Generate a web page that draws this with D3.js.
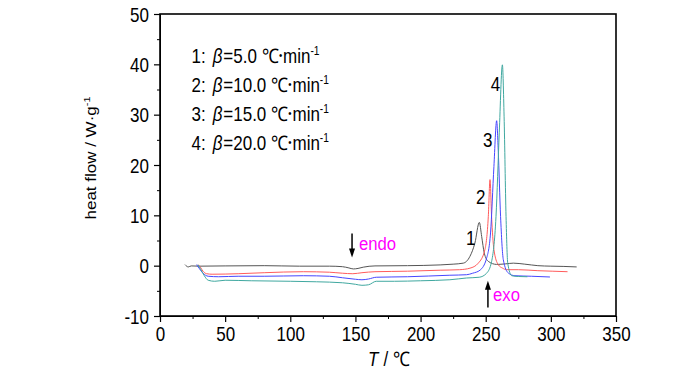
<!DOCTYPE html>
<html>
<head>
<meta charset="utf-8">
<script src="https://cdnjs.cloudflare.com/ajax/libs/d3/7.8.5/d3.min.js"></script>
<style>
  body { margin: 0; background: #fff; }
  svg text { font-family: "Liberation Sans", Arial, sans-serif; }
</style>
</head>
<body>
<svg id="chart" width="700" height="373"></svg>
<script>
// curve data (T in degC, heat flow in W/g)
const curve1T = [19.2, 21.7, 24, 30, 50, 80, 107, 130, 140, 145, 148.4, 152, 156, 165, 190, 215, 225, 232.8, 237.9, 241.7, 245.1, 246.9, 248.9, 252, 258.4, 265, 271.2, 280, 290, 300, 310, 319.8];
const curve1H = [0.2, -0.25, -0.05, -0.1, -0.05, 0, -0.1, -0.1, -0.2, -0.45, -0.65, -0.55, -0.3, -0.05, 0, 0.15, 0.3, 0.5, 1.85, 4.5, 8.6, 5.8, 2.5, 0.85, 0.25, 0.35, 0.5, 0.3, 0, -0.1, -0.15, -0.25];

const curve2T = [29.4, 31, 33, 35.8, 40, 60, 80, 110, 130, 140, 148, 155, 165, 190, 215, 230, 237.9, 244.3, 249.4, 252, 253.3, 254.5, 256.3, 259.6, 263, 266, 275, 290, 301, 312.8];
const curve2H = [0.2, -0.3, -1.1, -1.6, -1.7, -1.6, -1.4, -1.2, -1.3, -1.5, -1.6, -1.4, -1.2, -1.1, -0.9, -0.8, -0.5, 0.5, 3.2, 9.8, 17.1, 9.8, 3.2, 0.2, -0.5, -0.8, -0.8, -1.0, -1.1, -1.2];

const curve3T = [28.1, 30, 33, 37, 45, 60, 80, 110, 130, 140, 150, 155, 160, 166, 190, 222.5, 235.3, 240, 245.6, 250.7, 253.7, 256.3, 258.4, 259.6, 261.4, 263.5, 267.3, 272.4, 285, 299.3];
const curve3H = [0.2, -0.5, -1.5, -2.1, -2.2, -2.1, -2.1, -2.0, -2.1, -2.4, -2.7, -2.8, -2.65, -2.3, -2.2, -1.9, -1.8, -1.5, -0.9, 1.5, 6.5, 19.7, 28.8, 23, 9.8, 1.2, -1.45, -2.0, -2.1, -2.25];

const curve4T = [29.2, 31, 34, 37, 42, 50, 70, 100, 120, 140, 150, 155, 160, 166, 180, 200, 222.5, 235.3, 245, 250.7, 254.5, 257.9, 260.4, 262.8, 264.1, 265.6, 266.9, 270, 275, 282];
const curve4H = [0.2, -0.6, -2.0, -2.9, -3.1, -2.9, -3.0, -3.1, -3.2, -3.4, -3.7, -3.9, -3.8, -3.1, -3.1, -3.0, -2.8, -2.45, -2.3, -1.5, 0.8, 9.8, 26.4, 39.9, 29.7, 9.8, 0.5, -2.0, -2.15, -2.2];

const seriesColors = ['#555555', '#ff5c5c', '#4646ff', '#40a8a0'];
const legendRates = ['5.0', '10.0', '15.0', '20.0'];

// curve number labels: [T, heat flow] of the text baseline
const curveLabelT = [234.8, 242.5, 247.9, 253.8];
const curveLabelH = [4.2, 12.3, 23.6, 34.8];

const xTicks = [0, 50, 100, 150, 200, 250, 300, 350];
const yTicks = [-10, 0, 10, 20, 30, 40, 50];

// the original lettering is a condensed Arial
const sq = 0.85;

const margin = { top: 14, right: 84, bottom: 57, left: 160 };
const width = 700 - margin.left - margin.right;
const height = 373 - margin.top - margin.bottom;

const svg = d3.select('#chart');
const g = svg.append('g').attr('transform', `translate(${margin.left},${margin.top})`);

const x = d3.scaleLinear().domain([0, 350]).range([0, width]);
const y = d3.scaleLinear().domain([-10, 50]).range([height, 0]);

// minor ticks first, then major ones on top
g.append('g')
  .attr('transform', `translate(0,${height})`)
  .call(d3.axisBottom(x).tickValues(d3.range(25, 350, 50)).tickSize(3).tickFormat(''))
  .call(a => a.select('.domain').remove());
g.append('g')
  .call(d3.axisLeft(y).tickValues(d3.range(-5, 50, 10)).tickSize(3).tickFormat(''))
  .call(a => a.select('.domain').remove());

const xAxis = g.append('g')
  .attr('transform', `translate(0,${height})`)
  .call(d3.axisBottom(x).tickValues(xTicks).tickSize(6).tickSizeOuter(0).tickPadding(5).tickFormat(d => String(d)));
const yAxis = g.append('g')
  .call(d3.axisLeft(y).tickValues(yTicks).tickSize(6).tickSizeOuter(0).tickPadding(5).tickFormat(d => String(d)));

[xAxis, yAxis].forEach(a => {
  a.selectAll('.tick line').attr('stroke', '#000').attr('stroke-width', 1.2);
  a.selectAll('text').attr('font-size', 20).attr('fill', '#000')
    .style('font-family', '"Liberation Sans", Arial, sans-serif')
    .attr('transform', `scale(${sq},1)`);
});
yAxis.selectAll('.tick text').attr('x', -11 / sq).attr('dy', '0.36em');

// frame
g.append('rect')
  .attr('width', width).attr('height', height)
  .attr('fill', 'none').attr('stroke', '#000').attr('stroke-width', 1.6);

const line = d3.line()
  .x(d => x(d[0]))
  .y(d => y(d[1]))
  .curve(d3.curveMonotoneX);

const curves = [
  d3.zip(curve1T, curve1H),
  d3.zip(curve2T, curve2H),
  d3.zip(curve3T, curve3H),
  d3.zip(curve4T, curve4H)
];

g.selectAll('.curve')
  .data(curves)
  .enter().append('path')
  .attr('class', 'curve')
  .attr('d', line)
  .attr('fill', 'none')
  .attr('stroke', (d, i) => seriesColors[i])
  .attr('stroke-width', 1);

g.selectAll('.curve-label')
  .data(curveLabelT)
  .enter().append('text')
  .attr('transform', (d, i) => `translate(${x(d)},${y(curveLabelH[i])}) scale(${sq},1)`)
  .attr('font-size', 20)
  .text((d, i) => i + 1);

// legend
const legend = g.append('g').attr('transform', `translate(31.5,49) scale(${sq},1)`);
legendRates.forEach((rate, i) => {
  const t = legend.append('text')
    .attr('x', 0)
    .attr('y', i * 29)
    .attr('font-size', 20);
  t.append('tspan').text(`${i + 1}:`);
  t.append('tspan').attr('x', 25).attr('font-style', 'italic').text('β');
  t.append('tspan').attr('dx', 1).text(`=${rate} ℃`);
  t.append('tspan').attr('dx', 1).text('•').attr('font-size', 11).attr('dy', -4);
  t.append('tspan').attr('dx', 1).attr('dy', 4).text('min');
  t.append('tspan').attr('dy', -8).attr('font-size', 12).text('-1');
});

// endo / exo arrows
function arrow(xp, y0, y1) {
  const dir = y1 > y0 ? 1 : -1;
  g.append('line')
    .attr('x1', xp).attr('x2', xp)
    .attr('y1', y0).attr('y2', y1 - dir * 6)
    .attr('stroke', '#000').attr('stroke-width', 1.5);
  g.append('path')
    .attr('d', `M${xp - 3},${y1 - dir * 9}L${xp + 3},${y1 - dir * 9}L${xp},${y1}Z`)
    .attr('fill', '#000');
}
arrow(x(147.4), y(6.4), y(1.6));
arrow(x(251.7), y(-8.3), y(-3.0));

g.append('text')
  .attr('transform', `translate(${x(152.7)},${y(3.2)}) scale(0.88,1)`)
  .attr('font-size', 19).attr('fill', '#ff00ff')
  .text('endo');
g.append('text')
  .attr('transform', `translate(${x(255.6)},${y(-7.0)}) scale(0.88,1)`)
  .attr('font-size', 19).attr('fill', '#ff00ff')
  .text('exo');

// axis titles
const xTitle = svg.append('text')
  .attr('transform', `translate(368,366) scale(${sq},1)`)
  .attr('font-size', 20);
xTitle.append('tspan').attr('font-style', 'italic').text('T');
xTitle.append('tspan').attr('dx', 6).text('/ ℃');

const yTitle = svg.append('text')
  .attr('transform', 'translate(96,158) rotate(-90) scale(1,0.9)')
  .attr('text-anchor', 'middle')
  .attr('font-size', 17);
yTitle.append('tspan').text('heat flow / W·g');
yTitle.append('tspan').attr('dy', -7).attr('font-size', 11).text('-1');
</script>
</body>
</html>
